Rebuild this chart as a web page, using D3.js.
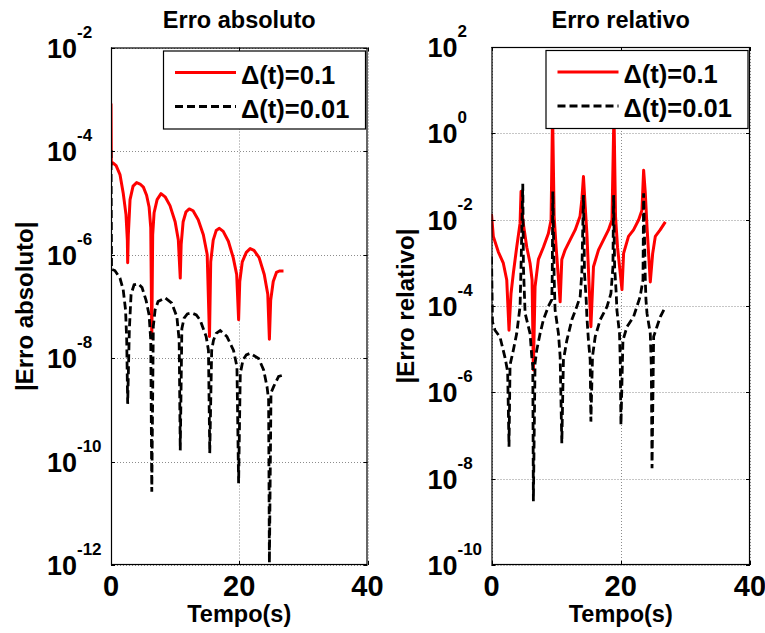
<!DOCTYPE html>
<html><head><meta charset="utf-8">
<script src="https://cdn.jsdelivr.net/npm/d3@7"></script>
<style>
body{margin:0;background:#fff}
text{font-family:"Liberation Sans",Arial,Helvetica,sans-serif;font-weight:bold;fill:#000}
</style>
</head><body>
<svg id="chart" width="765" height="633"></svg>
<script>
// ---------- data ----------
const xTicks = [0, 20, 40];
const xDomain = [0, 40];
const absYTicks = [1e-12, 1e-10, 1e-8, 1e-6, 1e-4, 1e-2];
const absYExp = ["-12", "-10", "-8", "-6", "-4", "-2"];
const relYTicks = [1e-10, 1e-8, 1e-6, 1e-4, 1e-2, 1e0, 1e2];
const relYExp = ["-10", "-8", "-6", "-4", "-2", "0", "2"];
const legendLabels = ["\u0394(t)=0.1", "\u0394(t)=0.01"];
const titles = ["Erro absoluto", "Erro relativo"];
const yLabels = ["|Erro absoluto|", "|Erro relativo|"];
const xLabel = "Tempo(s)";

// absolute error, dt = 0.1  [time, value]
const absErrDt01 = [
 [0,8.3e-4],[0.05,5.5e-5],[0.3,5.9e-5],[0.8,5.2e-5],[1.4,3.5e-5],[1.9,1.55e-5],[2.34,5.9e-6],[2.55,1.9e-6],
 [2.6,6.9e-7],[2.7,2.4e-6],[2.97,1.15e-5],[3.44,2.1e-5],[4.0,2.45e-5],[4.53,2.3e-5],[5.05,2.0e-5],[5.55,1.4e-5],
 [5.94,8.3e-6],[6.2,3.3e-6],[6.36,2.4e-8],[6.5,2.4e-6],[6.72,6.4e-6],[7.19,1.15e-5],[7.8,1.5e-5],[8.44,1.3e-5],
 [9.2,8.8e-6],[10.0,4.3e-6],[10.5,1.9e-6],[10.8,3.5e-7],[10.94,1.55e-6],[11.25,4.3e-6],[11.7,6.7e-6],[12.2,7.6e-6],
 [12.8,7.0e-6],[13.6,4.7e-6],[14.4,2.4e-6],[15.0,1.0e-6],[15.36,2.6e-8],[15.55,7.2e-7],[15.94,1.9e-6],[16.4,2.9e-6],
 [16.9,3.2e-6],[17.5,2.8e-6],[18.3,1.8e-6],[19.06,8.7e-7],[19.6,4.1e-7],[19.9,5.5e-8],[20.08,3.0e-7],[20.47,7.2e-7],
 [21.1,1.1e-6],[21.7,1.3e-6],[22.3,1.2e-6],[23.1,8.7e-7],[23.9,4.1e-7],[24.45,1.7e-7],[24.7,2.3e-8],[24.9,1.3e-7],
 [25.3,3.0e-7],[25.8,4.5e-7],[26.25,4.8e-7],[26.9,4.8e-7]
];
// absolute error, dt = 0.01
const absErrDt001 = [
 [0,1.05e-4],[0.08,5.2e-7],[0.6,4.9e-7],[1.4,3.5e-7],[1.9,2.1e-7],[2.27,8.5e-8],[2.45,2.2e-8],[2.6,1.3e-9],
 [2.86,3.5e-8],[3.13,1.7e-7],[3.6,2.6e-7],[4.27,2.7e-7],[4.84,2.3e-7],[5.47,1.3e-7],[5.94,6.8e-8],[6.2,2.2e-8],
 [6.36,2.6e-11],[6.6,4.1e-8],[6.88,8.5e-8],[7.34,1.23e-7],[8.44,1.45e-7],[9.48,1.15e-7],[10.27,6.3e-8],[10.63,2.2e-8],
 [10.8,1.65e-10],[11.05,3.7e-8],[11.4,5.9e-8],[11.9,7.1e-8],[12.6,7.4e-8],[13.3,6.8e-8],[13.9,5.4e-8],[14.84,2.6e-8],
 [15.2,1.4e-8],[15.4,1.45e-10],[15.7,1.4e-8],[15.98,2.2e-8],[16.4,3.0e-8],[17.03,3.4e-8],[18.08,2.6e-8],[19.11,1.4e-8],
 [19.64,6.8e-9],[19.9,3.8e-11],[20.16,5.0e-9],[20.58,9.1e-9],[21.1,1.15e-8],[21.72,1.23e-8],[23.02,9.8e-9],[23.8,5.9e-9],
 [24.33,2.8e-9],[24.58,1.55e-9],[24.7,1.1e-12],[24.95,2.1e-9],[25.36,2.8e-9],[26.14,4.4e-9],[26.92,4.7e-9]
];
// relative error, dt = 0.1
const relErrDt01 = [
 [0,1.35e-2],[0.28,4.1e-3],[1.05,1.8e-3],[1.83,9.8e-4],[2.36,4.0e-4],[2.71,2.75e-5],[3.02,1.95e-4],[3.38,5.8e-4],
 [3.9,2.3e-3],[4.42,8.3e-3],[4.57,4.5e-2],[4.84,9.8e-3],[5.46,2.3e-3],[5.97,9.8e-4],[6.28,4.0e-4],[6.48,3.3e-6],
 [6.74,2.8e-4],[7.26,1.2e-3],[8.03,2.3e-3],[8.8,4.8e-3],[9.22,9.8e-3],[9.45,3.2],[9.69,1.2e-2],[10.0,2.3e-3],
 [10.62,1.25e-4],[10.88,1.2e-3],[11.4,2.0e-3],[12.17,3.4e-3],[12.95,5.8e-3],[13.7,1.2e-2],[13.98,2.9e-2],[14.23,0.1],
 [14.5,2.0e-2],[14.76,4.8e-3],[15.38,3.3e-5],[15.78,8.1e-4],[16.56,2.0e-3],[17.33,3.4e-3],[18.1,5.8e-3],[18.64,9.8e-3],
 [18.95,3.2],[19.19,1.2e-2],[19.5,2.3e-3],[20.19,2.4e-4],[20.44,1.65e-3],[21.2,4.1e-3],[21.98,5.8e-3],[22.76,9.8e-3],
 [23.28,1.65e-2],[23.54,0.14],[23.8,4.1e-2],[24.06,6.9e-3],[24.57,3.6e-4],[24.94,1.65e-3],[25.35,4.1e-3],[26.1,5.8e-3],
 [26.9,8.9e-3]
];
// relative error, dt = 0.01
const relErrDt001 = [
 [0,1.4e-3],[0.15,4.3e-5],[0.54,2.75e-5],[1.32,1.9e-5],[2.1,6.3e-6],[2.5,3.0e-6],[2.71,5.5e-8],[2.87,4.3e-6],
 [3.38,9.5e-6],[3.9,2.3e-5],[4.42,9.8e-5],[4.57,8.1e-4],[4.84,6.8e-2],[4.94,8.1e-4],[5.2,6.8e-5],[5.97,2.3e-5],
 [6.23,6.8e-6],[6.39,4.0e-6],[6.48,3.0e-9],[6.74,4.7e-6],[7.0,9.5e-6],[7.52,2.3e-5],[8.03,4.8e-5],[8.8,9.8e-5],
 [9.33,1.4e-4],[9.4,5.0e-4],[9.49,4.5e-2],[9.69,4.8e-4],[9.84,8.1e-5],[10.36,2.3e-5],[10.62,6.8e-6],[10.88,6.6e-8],
 [11.13,5.6e-6],[11.66,1.6e-5],[12.43,4.8e-5],[13.21,9.8e-5],[13.72,1.65e-4],[13.98,5.8e-4],[14.23,3.7e-2],[14.39,5.8e-4],
 [14.65,1.4e-4],[14.76,5.6e-5],[15.0,1.6e-5],[15.27,5.6e-6],[15.38,2.1e-7],[15.63,6.8e-6],[16.05,1.95e-5],[16.82,4.8e-5],
 [17.86,9.5e-5],[18.48,1.95e-4],[18.79,8.1e-4],[18.89,3.7e-2],[19.05,8.1e-4],[19.3,1.95e-4],[19.4,8.1e-5],[19.81,2.3e-5],
 [19.92,5.6e-6],[20.03,1.75e-7],[20.34,1.6e-5],[20.96,3.3e-5],[21.98,5.6e-5],[23.0,1.65e-4],[23.44,4.0e-4],[23.54,4.1e-2],
 [23.8,4.0e-4],[23.9,1.4e-4],[24.06,6.8e-5],[24.57,2.3e-5],[24.73,4.0e-6],[24.84,1.75e-8],[25.09,1.95e-5],[25.6,3.3e-5],
 [26.12,5.6e-5],[26.9,9.5e-5]
];

// ---------- drawing ----------
const svg = d3.select("#chart");
svg.append("rect").attr("width",765).attr("height",633).attr("fill","#fff");

function panel(cfg, idx){
  const {left, right, top, bottom, yDomain, yTicks, yExp, title, ylabel, s1, s2} = cfg;
  const x = d3.scaleLinear().domain(xDomain).range([left, right]);
  const y = d3.scaleLog().domain(yDomain).range([bottom, top]);
  const g = svg.append("g");

  // grid
  const grid = g.append("g").attr("stroke","#8c8c8c").attr("stroke-width",1).attr("stroke-dasharray","1,2");
  grid.selectAll("line.gy").data(yTicks).join("line")
    .attr("x1",left).attr("x2",right)
    .attr("y1",d=>Math.round(y(d))+0.5).attr("y2",d=>Math.round(y(d))+0.5);
  grid.selectAll("line.gx").data(xTicks).join("line")
    .attr("x1",d=>Math.round(x(d))+0.5).attr("x2",d=>Math.round(x(d))+0.5)
    .attr("y1",top).attr("y2",bottom);

  // clip
  const cid = "clip"+idx;
  svg.append("clipPath").attr("id",cid).append("rect")
    .attr("x",left).attr("y",top).attr("width",right-left).attr("height",bottom-top);

  const line = d3.line().x(d=>x(d[0])).y(d=>y(d[1]));
  const lines = g.append("g").attr("clip-path",`url(#${cid})`);
  lines.append("path").datum(s1).attr("d",line).attr("fill","none")
    .attr("stroke","#ff0000").attr("stroke-width",3).attr("stroke-linejoin","round");
  lines.append("path").datum(s2).attr("d",line).attr("fill","none")
    .attr("stroke","#000").attr("stroke-width",2.8).attr("stroke-dasharray","8,4");

  // box
  g.append("rect").attr("x",left+0.5).attr("y",top+0.5).attr("width",right-left-1).attr("height",bottom-top-1)
    .attr("fill","none").attr("stroke","#000").attr("stroke-width",1.2);

  // ticks (inward)
  const tk = g.append("g").attr("stroke","#000").attr("stroke-width",1);
  yTicks.forEach(v=>{
    const yy = Math.round(y(v))+0.5;
    tk.append("line").attr("x1",left).attr("x2",left+4).attr("y1",yy).attr("y2",yy);
    tk.append("line").attr("x1",right-4).attr("x2",right).attr("y1",yy).attr("y2",yy);
  });
  xTicks.forEach(v=>{
    const xx = Math.round(x(v))+0.5;
    tk.append("line").attr("x1",xx).attr("x2",xx).attr("y1",bottom-4).attr("y2",bottom);
    tk.append("line").attr("x1",xx).attr("x2",xx).attr("y1",top).attr("y2",top+4);
  });

  // y tick labels
  yTicks.forEach((v,i)=>{
    const yy = y(v);
    g.append("text").attr("x",left-64).attr("y",yy+10).attr("font-size",27).text("10");
    g.append("text").attr("x",left-34).attr("y",yy-10).attr("font-size",17).text(yExp[i]);
  });
  // x tick labels
  g.selectAll("text.xt").data(xTicks).join("text")
    .attr("x",d=>x(d)).attr("y",596).attr("text-anchor","middle").attr("font-size",29).text(d=>d);

  // title, labels
  const cx = (left+right)/2;
  g.append("text").attr("x",cx).attr("y",27.5).attr("text-anchor","middle").attr("font-size",23.5).text(title);
  g.append("text").attr("x",cx).attr("y",622).attr("text-anchor","middle").attr("font-size",23.5).text(xLabel);
  g.append("text").attr("transform",`translate(${left-78},${(top+bottom)/2}) rotate(-90)`)
    .attr("text-anchor","middle").attr("font-size",24).text(ylabel);

  // legend
  const lx = right-204.5, ly = top+3, lw = 202, lh = 78;
  g.append("rect").attr("x",lx+0.5).attr("y",ly+0.5).attr("width",lw).attr("height",lh)
    .attr("fill","#fff").attr("stroke","#000").attr("stroke-width",1.2);
  const rows = [{c:"#ff0000",dash:null,y:ly+22},{c:"#000",dash:"8,4",y:ly+56}];
  rows.forEach((r,i)=>{
    const l = g.append("line").attr("x1",lx+12).attr("x2",lx+73).attr("y1",r.y).attr("y2",r.y)
      .attr("stroke",r.c).attr("stroke-width",3);
    if(r.dash) l.attr("stroke-dasharray",r.dash);
    g.append("text").attr("x",lx+78).attr("y",r.y+11).attr("font-size",25.5).text(legendLabels[i]);
  });
}

panel({left:111,right:367.5,top:47.5,bottom:565,yDomain:[1e-12,1e-2],yTicks:absYTicks,yExp:absYExp,
  title:titles[0],ylabel:yLabels[0],s1:absErrDt01,s2:absErrDt001},0);
panel({left:491.5,right:750,top:47,bottom:565,yDomain:[1e-10,1e2],yTicks:relYTicks,yExp:relYExp,
  title:titles[1],ylabel:yLabels[1],s1:relErrDt01,s2:relErrDt001},1);
</script>
</body></html>
